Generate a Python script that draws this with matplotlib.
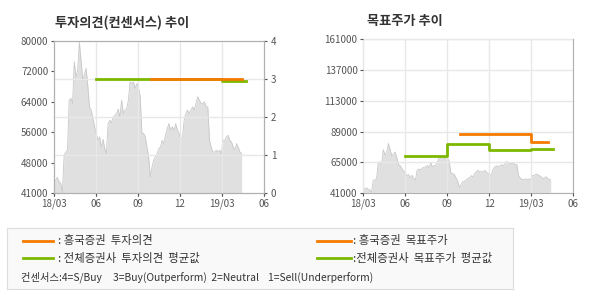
import numpy as np
import matplotlib.pyplot as plt
from matplotlib.lines import Line2D

plt.rcParams['font.family'] = ['Noto Sans CJK KR', 'DejaVu Sans']

# price (thousand won), sampled every ~4 days from 18/03 to mid 19/04
price = [43.4, 44.3, 45.0, 43.8, 43.5, 41.3, 50.7, 51.5, 52.0, 64.8, 65.3, 64.0,
         74.7, 70.8, 72.5, 79.7, 75.1, 70.0, 71.5, 73.0, 68.5, 63.1, 62.3, 60.1,
         58.0, 56.3, 54.5, 55.4, 52.8, 54.8, 52.4, 51.1, 58.8, 59.7, 59.0, 60.5,
         60.9, 61.4, 62.5, 60.5, 64.8, 61.4, 62.3, 62.6, 64.8, 69.5, 69.1, 69.5,
         67.8, 69.1, 68.0, 65.7, 56.3, 56.3, 55.4, 52.8, 50.3, 45.1, 47.7, 49.5,
         50.3, 51.0, 52.4, 52.8, 54.5, 53.7, 56.0, 57.5, 58.8, 57.1, 58.0, 57.1,
         58.8, 57.1, 56.3, 54.5, 55.4, 59.7, 61.4, 62.3, 61.4, 62.3, 63.1, 62.3,
         64.0, 65.7, 64.8, 64.0, 64.0, 64.4, 63.1, 63.1, 54.5, 52.8, 51.5, 51.5,
         52.0, 51.5, 52.0, 51.1, 54.5, 54.5, 55.4, 55.8, 54.5, 54.1, 52.8, 52.0,
         53.7, 52.8, 51.5, 51.1]
price_end = 13.4  # months after 18/03

# consensus opinion (segments: month start, month end, value)
hk_opinion = [(6.9, 13.4, 3.0)]
all_opinion = [(3.0, 12.0, 3.0), (12.0, 13.7, 2.95)]

# target price (won)
hk_target = [(6.9, 12.0, 87000), (12.0, 13.2, 81000)]
all_target = [(3.0, 6.0, 70000), (6.0, 9.0, 79000), (9.0, 12.0, 74500), (12.0, 13.6, 75500)]

xticks = [0, 3, 6, 9, 12, 15]
xlabels = ['18/03', '06', '09', '12', '19/03', '06']
left_ticks = ['41000', '48000', '56000', '64000', '72000', '80000']
opinion_ticks = [0, 1, 2, 3, 4]
right_ticks = [41000, 65000, 89000, 113000, 137000, 161000]

orange = '#f57a00'
green = '#7db800'
fill_c = '#e0e0e0'
edge_c = '#c8c8c8'
grid_c = '#e8e8e8'
spine_c = '#b0b0b0'
txt_c = '#555555'

px = np.array(price) * 1000
xs = np.linspace(0, price_end, len(px))


def steps(segs):
    x, y = [], []
    for a, b, v in segs:
        x += [a, b]
        y += [v, v]
    return x, y


def style(ax):
    for s in ax.spines.values():
        s.set_color(spine_c)
    ax.tick_params(colors=txt_c, labelsize=7, length=2, pad=2)
    ax.set_xlim(0, 15)
    ax.set_xticks(xticks)
    ax.set_xticklabels(xlabels)


fig = plt.figure(figsize=(5.9, 3.0), dpi=100)
rect1 = [0.0915, 0.3567, 0.356, 0.5066]

# left chart: price on the left scale
axp = fig.add_axes(rect1)
axp.set_ylim(41000, 80000)
axp.set_yticks(np.linspace(41000, 80000, 6))
axp.set_yticklabels(left_ticks)
style(axp)
axp.fill_between(xs, 41000, px, color=fill_c, lw=0)
axp.plot(xs, px, color=edge_c, lw=0.6)

# opinion scale (0-4) on the right, carries the grid, drawn on top
ax1 = fig.add_axes(rect1)
ax1.patch.set_visible(False)
ax1.set_ylim(0, 4)
ax1.set_yticks(opinion_ticks)
ax1.yaxis.tick_right()
style(ax1)
ax1.tick_params(axis='y', pad=3)
ax1.tick_params(axis='x', labelbottom=False)
for t in xticks[1:-1]:
    ax1.axvline(t, color=grid_c, lw=1, zorder=1)
for v in opinion_ticks[1:-1]:
    ax1.axhline(v, color=grid_c, lw=1, zorder=1)
gx, gy = steps(all_opinion)
ax1.plot(gx, gy, color=green, lw=2, zorder=3)
ox, oy = steps(hk_opinion)
ax1.plot(ox, oy, color=orange, lw=2, zorder=3)

fig.text(0.093, 0.925, '투자의견(컨센서스) 추이', fontsize=9.5, fontweight='bold',
         color='#333333', va='center')

# right chart
ax2 = fig.add_axes([0.6153, 0.3567, 0.356, 0.5123])
ax2.fill_between(xs, 41000, px, color=fill_c, lw=0, zorder=1)
ax2.plot(xs, px, color=edge_c, lw=0.6, zorder=1)
ax2.set_ylim(41000, 161000)
ax2.set_yticks(right_ticks)
ax2.set_yticklabels([str(v) for v in right_ticks])
style(ax2)
ax2.grid(True, color=grid_c, lw=1)
ax2.set_axisbelow(False)
tx, ty = steps(all_target)
ax2.plot(tx, ty, color=green, lw=2, zorder=3)
hx, hy = steps(hk_target)
ax2.plot(hx, hy, color=orange, lw=2, zorder=3)

fig.text(0.622, 0.931, '목표주가 추이', fontsize=9.5, fontweight='bold',
         color='#333333', va='center')

# legend box
lg = fig.add_axes([7 / 590, 1 - 289 / 300, 506 / 590, 61 / 300])
lg.set_xlim(7, 513)
lg.set_ylim(289, 228)
lg.set_xticks([])
lg.set_yticks([])
lg.set_facecolor('#f9f9f9')
for s in lg.spines.values():
    s.set_color('#dddddd')
lg.add_line(Line2D([23, 53], [241, 241], color=orange, lw=2))
lg.add_line(Line2D([23, 53], [258, 258], color=green, lw=2))
lg.add_line(Line2D([317, 351], [241, 241], color=orange, lw=2))
lg.add_line(Line2D([317, 351], [258, 258], color=green, lw=2))
lg.text(58, 241, ': 흥국증권  투자의견', fontsize=8.2, color='#333333', va='center')
lg.text(58, 258, ': 전체증권사  투자의견  평균값', fontsize=8.2, color='#333333', va='center')
lg.text(353, 241, ': 흥국증권  목표주가', fontsize=8.2, color='#333333', va='center')
lg.text(353, 258, ':전체증권사  목표주가  평균값', fontsize=8.2, color='#333333', va='center')
lg.text(21, 277, '컨센서스:4=S/Buy     3=Buy(Outperform)  2=Neutral    1=Sell(Underperform)',
        fontsize=7.4, color='#333333', va='center')

fig.savefig('out.png', dpi=100)
